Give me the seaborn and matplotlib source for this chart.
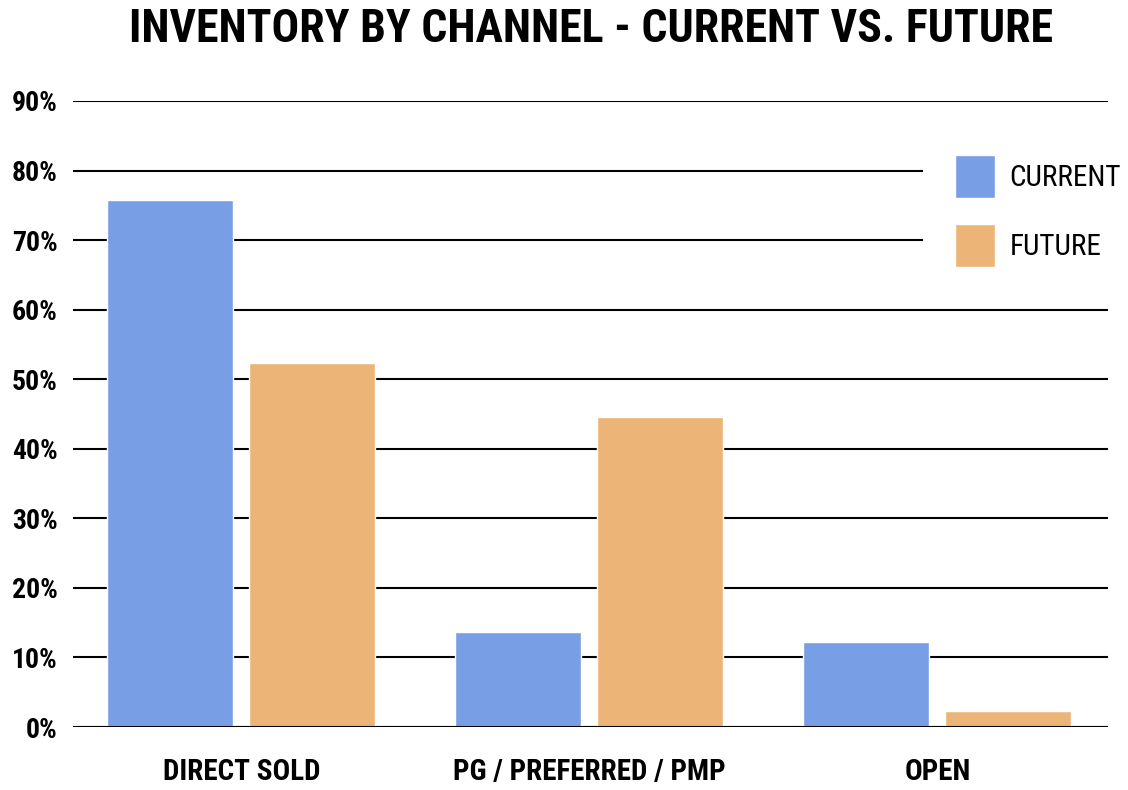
import pandas as pd
import seaborn as sns
import matplotlib.pyplot as plt
from matplotlib.ticker import FuncFormatter

channels = ['DIRECT SOLD', 'PG / PREFERRED / PMP', 'OPEN']
current = [75.8, 13.7, 12.2]
future = [52.3, 44.6, 2.3]

df = pd.DataFrame({
    'channel': channels * 2,
    'period': ['CURRENT'] * 3 + ['FUTURE'] * 3,
    'share': current + future,
})

sns.set_style('white')
plt.rcParams['font.family'] = ['Roboto Condensed', 'Roboto', 'DejaVu Sans']
plt.rcParams['text.color'] = 'black'
plt.rcParams['xtick.color'] = 'black'
plt.rcParams['ytick.color'] = 'black'

fig = plt.figure(figsize=(11.28, 7.9), dpi=100)
ax = fig.add_axes([0.0647, 0.0797, 0.9175, 0.7925])

sns.barplot(
    data=df,
    x='channel',
    y='share',
    hue='period',
    palette=['#789EE5', '#ECB476'],
    width=0.816,
    gap=0.113,
    saturation=1,
    ax=ax,
    zorder=3,
)

ax.set_ylim(0, 90)
ax.set_xlim(-0.484, 2.49)
ax.set_yticks(range(0, 91, 10))
ax.yaxis.set_major_formatter(FuncFormatter(lambda v, p: f'{int(v)}%'))
ax.grid(axis='y', color='black', linewidth=1.5, zorder=0)
ax.set_axisbelow(True)
ax.axhline(0, color='black', linewidth=2.2, zorder=4)
for s in ax.spines.values():
    s.set_visible(False)

ax.set_xlabel('')
ax.set_ylabel('')
ax.tick_params(axis='y', length=0, pad=11, labelsize=20)
ax.tick_params(axis='x', length=0, pad=22, labelsize=21)
for lab in ax.get_yticklabels() + ax.get_xticklabels():
    lab.set_fontweight('bold')

leg = ax.legend(
    loc='upper left',
    bbox_to_anchor=(0.821, 0.965),
    frameon=True,
    facecolor='white',
    edgecolor='none',
    framealpha=1,
    fontsize=21,
    handlelength=1.37,
    handleheight=1.9,
    handletextpad=0.51,
    labelspacing=0.88,
    borderpad=1.1,
    borderaxespad=0,
)
leg.set_zorder(5)

fig.text(0.524, 0.963, 'INVENTORY BY CHANNEL - CURRENT VS. FUTURE',
         fontsize=33, fontweight='bold', ha='center', va='center')

fig.savefig('out.png', dpi=100)
